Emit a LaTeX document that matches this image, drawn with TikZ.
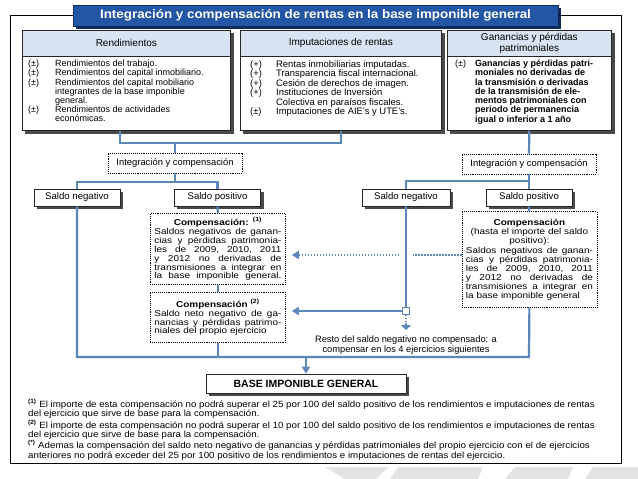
\documentclass[tikz,border=0pt]{standalone}
\usepackage{fontspec}
\setmainfont{Liberation Sans}
\newfontfamily\widesans{Liberation Sans}[FakeStretch=1.08]
\newfontfamily\widersans{Liberation Sans}[FakeStretch=1.16]
\usetikzlibrary{arrows.meta,calc}
\pgfdeclarelayer{back}
\pgfdeclarelayer{bg}
\pgfsetlayers{back,bg,main}
\definecolor{lnblue}{HTML}{5B87B9}
\definecolor{hdblue}{HTML}{D8E4F1}
\definecolor{ttlblue}{HTML}{2356A4}
\definecolor{ttldark}{HTML}{0E2A5A}
\definecolor{shdgray}{HTML}{4A4A4A}
\definecolor{decogray}{HTML}{E3E3E3}
\newcommand{\fsz}[2]{\fontsize{#1}{#2}\selectfont}
\newcommand{\sk}{\hskip 0.22em plus 1fill\relax}
\newcommand{\jl}[1]{\leavevmode\hbox to 127pt{#1}}
\newcommand{\cenline}[1]{\leavevmode\hbox to 127pt{\hfil #1\hfil}}
\newcommand{\lline}[1]{\leavevmode\hbox to 127pt{#1\hfil}}
\newcommand{\sups}[1]{\textsuperscript{\textbf{(#1)}}}
\tikzset{
 conn/.style={draw=lnblue,line width=2.2pt},
 bx/.style={draw=black!85,line width=0.7pt,fill=white,inner sep=0pt},
 hd/.style={draw=black!85,line width=0.7pt,fill=hdblue,inner sep=0pt,align=center,font=\fsz{10}{10.5}},
 dotbox/.style={draw=black,line width=0.8pt,dash pattern=on 0.8pt off 1.1pt,fill=white},
 saldo/.style={draw=black!85,line width=0.7pt,fill=white,minimum width=86pt,minimum height=17pt,inner sep=0pt,font=\fsz{9.6}{10}},
 body/.style={anchor=north west,inner sep=0pt,font=\fsz{9}{8.9}},
 comp/.style={dotbox,anchor=north west,text width=127pt,minimum width=135pt,inner sep=4pt,align=left,font=\widersans\fsz{8.6}{8.9}},
 tip/.style={-{Triangle[width=8pt,length=7pt]}},
 shdfill/.style={fill=shdgray},
}
\newcommand{\dropsh}[1]{\fill[shdfill] ($(#1.south west)+(3,3)$) rectangle ($(#1.north east)+(3,3)$);}
\begin{document}
\begin{tikzpicture}[x=1pt,y=-1pt,font=\fsz{8.2}{9}]
\begin{pgfonlayer}{back}
\fill[white] (0,0) rectangle (638,479);
\fill[decogray] (325,467) -- (388,467) -- (376,479) -- (345,479) -- cycle;
\fill[decogray] (398,467) -- (483,467) -- (478,479) -- (390,479) -- cycle;
\fill[decogray] (515,467) -- (573,467) -- (568,479) -- (505,479) -- cycle;
\fill[decogray] (593,467) -- (638,467) -- (638,479) -- (585,479) -- cycle;
\end{pgfonlayer}
\useasboundingbox (0,0) rectangle (638,479);

\node[draw=black,line width=0.9pt,minimum width=611pt,minimum height=448pt,anchor=north west,inner sep=0pt] (frame) at (10,15) {};

\node[fill=ttlblue,draw=ttldark,line width=0.8pt,minimum width=485pt,minimum height=21pt,inner sep=0pt,text=white,font=\widesans\bfseries\fsz{12.4}{13}] (title) at (315.5,15.5) {Integración y compensación de rentas en la base imponible general};

% top boxes
\node[bx,minimum width=208pt,minimum height=100pt,anchor=north west] (b1) at (22,30) {};
\node[bx,minimum width=201pt,minimum height=100pt,anchor=north west] (b2) at (240,30) {};
\node[bx,minimum width=164pt,minimum height=100pt,anchor=north west] (b3) at (447,30) {};
\node[hd,minimum width=208pt,minimum height=26pt,anchor=north west] (h1) at (b1.north west) {Rendimientos};
\node[hd,minimum width=201pt,minimum height=26pt,anchor=north west] (h2) at (b2.north west) {Imputaciones de rentas};
\node[hd,minimum width=164pt,minimum height=26pt,anchor=north west] (h3) at (b3.north west) {Ganancias y pérdidas\\patrimoniales};

\node[body] (t1) at (28,60) {\begin{tabular}{@{}p{27pt}@{}l@{}}
(±)& Rendimientos del trabajo.\\
(±)& Rendimientos del capital inmobiliario.\\
(±)& Rendimientos del capital mobiliario\\
& integrantes de la base imponible\\
& general.\\
(±)& Rendimientos de actividades\\
& económicas.
\end{tabular}};
\node[body,font=\fsz{9.4}{8.9}] (t2) at (250,60) {\begin{tabular}{@{}p{26pt}@{}l@{}}
(+)& Rentas inmobiliarias imputadas.\\
(+)& Transparencia fiscal internacional.\\
(+)& Cesión de derechos de imagen.\\
(+)& Instituciones de Inversión\\
& Colectiva en paraísos fiscales.\\
(±)& Imputaciones de AIE's y UTE's.
\end{tabular}};
\node[body,font=\bfseries\fsz{9}{8.9}] (t3) at (455,60) {\begin{tabular}{@{}p{20pt}@{}l@{}}
\mdseries(±)& Ganancias y pérdidas patri-\\
& moniales no derivadas de\\
& la transmisión o derivadas\\
& de la transmisión de ele-\\
& mentos patrimoniales con\\
& periodo de permanencia\\
& igual o inferior a 1 año
\end{tabular}};

% integration boxes
\node[dotbox,minimum width=134pt,minimum height=20pt,inner sep=0pt,font=\fsz{9.4}{10}] (ic1) at (175,163) {Integración y compensación};
\node[dotbox,minimum width=134pt,minimum height=20pt,inner sep=0pt,font=\fsz{9.4}{10}] (ic2) at (529,164) {Integración y compensación};

% saldo boxes
\node[saldo] (sn1) at (77,197.5) {Saldo negativo};
\node[saldo] (sp1) at (217.5,197.5) {Saldo positivo};
\node[saldo,minimum width=88pt] (sn2) at (406,197.5) {Saldo negativo};
\node[saldo] (sp2) at (529,197.5) {Saldo positivo};

% compensation boxes
\node[comp,minimum height=70pt] (c1) at (150,213) {\cenline{\textbf{Compensación:} \sups{1}}\\
\jl{Saldos\sk negativos\sk de\sk ganan-}\\
\jl{cias\sk y\sk pérdidas\sk patrimonia-}\\
\jl{les\sk de\sk 2009,\sk 2010,\sk 2011}\\
\jl{y\sk 2012\sk no\sk derivadas\sk de}\\
\jl{transmisiones\sk a\sk integrar\sk en}\\
\jl{la\sk base\sk imponible\sk general.}};
\node[comp,minimum height=50pt] (c2) at (150,292) {\cenline{\textbf{Compensación} \sups{2}}\\
\jl{Saldo\sk neto\sk negativo\sk de\sk ga-}\\
\jl{nancias\sk y\sk pérdidas\sk patrimo-}\\
\lline{niales del propio ejercicio}};
\node[comp,minimum height=96pt] (rc) at (461.5,211) {\cenline{\textbf{Compensación}}\\
\cenline{(hasta el importe del saldo}\\
\cenline{positivo):}\\[1.5pt]
\jl{Saldos\sk negativos\sk de\sk ganan-}\\
\jl{cias\sk y\sk pérdidas\sk patrimonia-}\\
\jl{les\sk de\sk 2009,\sk 2010,\sk 2011}\\
\jl{y\sk 2012\sk no\sk derivadas\sk de}\\
\jl{transmisiones\sk a\sk integrar\sk en}\\
\lline{la base imponible general}};

\node[draw=lnblue,line width=1.5pt,fill=white,minimum size=7pt,inner sep=0pt] (sq) at (406,311) {};
\coordinate (rtip) at (406,330);
\node[align=center,font=\fsz{9.3}{10}] (resto) at (406,345) {Resto del saldo negativo no compensado: a\\compensar en los 4 ejercicios siguientes};

\node[draw=black!85,line width=0.7pt,fill=white,minimum width=200pt,minimum height=19pt,inner sep=0pt,font=\bfseries\fsz{10.5}{12}] (base) at (306,383.5) {BASE IMPONIBLE GENERAL};

\node[anchor=north west,inner sep=0pt,align=left,font=\widesans\fsz{9}{9.6}] (notes) at (28,399) {\sups{1} El importe de esta compensación no podrá superar el 25 por 100 del saldo positivo de los rendimientos e imputaciones de rentas\\
del ejercicio que sirve de base para la compensación.\\
\sups{2} El importe de esta compensación no podrá superar el 10 por 100 del saldo positivo de los rendimientos e imputaciones de rentas\\
del ejercicio que sirve de base para la compensación.\\
\sups{*} Ademas la compensación del saldo neto negativo de ganancias y pérdidas patrimoniales del propio ejercicio con el de ejercicios\\
anteriores no podrá exceder del 25 por 100 positivo de los rendimientos e imputaciones de rentas del ejercicio.};

% connectors
\coordinate (x1) at (120,143);
\coordinate (j1) at (175,143);
\coordinate (j2) at (175,182);
\coordinate (j3) at (529,181);
\coordinate (bl) at (77,357);
\coordinate (br) at (529,357);
\coordinate (g1) at (413,255);
\coordinate (g2) at (399,255);
\draw[conn] (b1.south -| x1) |- (b2.south |- x1) -- (b2.south);
\draw[conn] (j1) -- (ic1.north);
\draw[conn] (ic1.south) -- (j2);
\draw[conn] (sn1.north) |- (j2) -| (sp1.north);
\draw[conn] (sp1.south) -- (c1.north);
\draw[conn] (c1.south) -- (c2.north);
\draw[conn] (b3.south) -- (ic2.north);
\draw[conn] (ic2.south) -- (sp2.north);
\draw[conn] (sn2.north) |- (j3);
\draw[conn] (sp2.south) -- (rc.north);
\draw[conn] (sn1.south) -- (bl) -- (br) -- (rc.south);
\draw[conn] (c2.south) -- (c2.south |- bl);
\draw[conn,tip] (base.north |- bl) -- (base.north);
\draw[conn] (sn2.south) -- (sq.north);
\draw[conn,tip] (sq.west) -- ($(c2.east |- sq)+(6,0)$);
\draw[lnblue,line width=1.4pt,dash pattern=on 1.2pt off 1.5pt,-{Triangle[width=10pt,length=5pt]}] (sq.south) -- (rtip);
\draw[lnblue,line width=1.6pt,dash pattern=on 1.2pt off 1.8pt] (rc.west |- g1) -- (g1);
\draw[lnblue,line width=1.6pt,dash pattern=on 1.2pt off 1.8pt,tip] (g2) -- ($(c1.east |- g2)+(6,0)$);

\begin{pgfonlayer}{bg}
\fill[ttldark] ($(title.south west)+(3,3)$) rectangle ($(title.north east)+(3,3)$);
\dropsh{b1}\dropsh{b2}\dropsh{b3}
\dropsh{sn1}\dropsh{sp1}\dropsh{sn2}\dropsh{sp2}
\dropsh{base}
\end{pgfonlayer}
\end{tikzpicture}
\end{document}
